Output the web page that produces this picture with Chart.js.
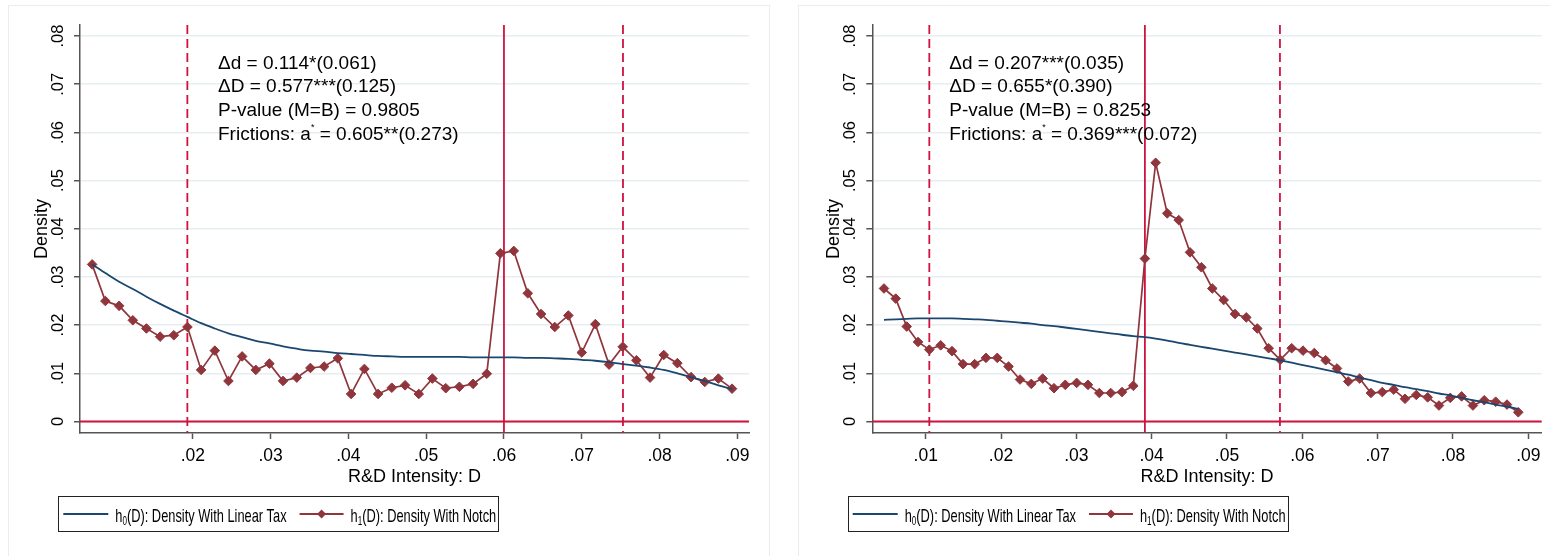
<!doctype html>
<html>

<head>
    <meta charset="UTF-8">
    <title>R&amp;D Intensity: densities with linear tax and notch</title>
    <script src="https://cdn.jsdelivr.net/npm/chart.js"></script>

    <style>
        body {
            margin: 0;
            background-color: #fff;
            width: 1550px;
            height: 556px;
            overflow: hidden;
            position: relative;
        }

        .moldura {
            position: absolute;
            border: 1px solid #e7eef2;
        }

        canvas {
            position: absolute;
            top: 0;
        }
    </style>
</head>

<body>

    <div class="moldura" style="left: 8px; top: 5px; width: 760px; height: 600px;"></div>
    <div class="moldura" style="left: 798px; top: 5px; width: 800px; height: 600px;"></div>
    <canvas id="graficoEsq" width="780" height="556" style="left: 0;"></canvas>
    <canvas id="graficoDir" width="770" height="556" style="left: 780px;"></canvas>

    <script>
        // ticks
        var yTicks = [0, 0.01, 0.02, 0.03, 0.04, 0.05, 0.06, 0.07, 0.08];
        var xTicksEsq = [0.02, 0.03, 0.04, 0.05, 0.06, 0.07, 0.08, 0.09];
        var xTicksDir = [0.01, 0.02, 0.03, 0.04, 0.05, 0.06, 0.07, 0.08, 0.09];

        // painel esquerdo
        var esqD = [0.00706, 0.00876, 0.01053, 0.01229, 0.01404, 0.01580, 0.01756, 0.01931, 0.02107, 0.02283,
            0.02458, 0.02634, 0.02810, 0.02985, 0.03160, 0.03337, 0.03512, 0.03688, 0.03864, 0.04035,
            0.04206, 0.04382, 0.04558, 0.04729, 0.04905, 0.05080, 0.05252, 0.05427, 0.05603, 0.05779,
            0.05954, 0.06126, 0.06306, 0.06477, 0.06653, 0.06828, 0.07000, 0.07175, 0.07351, 0.07527,
            0.07702, 0.07878, 0.08054, 0.08229, 0.08405, 0.08581, 0.08756, 0.08932];
        var esqNotch = [0.0326, 0.0250, 0.0240, 0.0210, 0.0193, 0.0176, 0.0179, 0.0196, 0.0107, 0.0147,
            0.0084, 0.0135, 0.0107, 0.0120, 0.0084, 0.0091, 0.0111, 0.0114, 0.0131, 0.0057,
            0.0109, 0.0057, 0.0070, 0.0075, 0.0057, 0.0089, 0.0069, 0.0072, 0.0078, 0.0099,
            0.0349, 0.0354, 0.0266, 0.0223, 0.0196, 0.0220, 0.0143, 0.0202, 0.0118, 0.0155,
            0.0127, 0.0091, 0.0138, 0.0121, 0.0092, 0.0082, 0.0089, 0.0068];
        var esqLinear = [0.0326, 0.0308, 0.0290, 0.0275, 0.0259, 0.0244, 0.0230, 0.0217, 0.0204, 0.0193,
            0.0183, 0.0175, 0.0167, 0.0162, 0.0156, 0.0151, 0.0147, 0.0145, 0.0142, 0.0140,
            0.0138, 0.0136, 0.0135, 0.0134, 0.0134, 0.0134, 0.0134, 0.0134, 0.0133, 0.0133,
            0.0133, 0.0133, 0.0132, 0.0132, 0.0131, 0.0130, 0.0128, 0.0126, 0.0123, 0.0119,
            0.0116, 0.0112, 0.0107, 0.0100, 0.0092, 0.0084, 0.0075, 0.0067];
        var esqLimites = [0.0193, 0.0753];
        var esqEntalhe = 0.06;
        var esqTexto = ['Δd = 0.114*(0.061)', 'ΔD = 0.577***(0.125)', 'P-value (M=B) = 0.9805',
            'Frictions: a^* = 0.605**(0.273)'];

        // painel direito
        var dirD = [0.00446, 0.00602, 0.00748, 0.00898, 0.01048, 0.01199, 0.01349, 0.01495, 0.01650, 0.01800,
            0.01950, 0.02100, 0.02252, 0.02402, 0.02553, 0.02703, 0.02853, 0.03004, 0.03154, 0.03305,
            0.03456, 0.03606, 0.03756, 0.03910, 0.04053, 0.04207, 0.04359, 0.04509, 0.04660, 0.04805,
            0.04956, 0.05106, 0.05256, 0.05402, 0.05553, 0.05707, 0.05859, 0.06009, 0.06159, 0.06310,
            0.06460, 0.06610, 0.06761, 0.06911, 0.07062, 0.07213, 0.07363, 0.07513, 0.07664, 0.07814,
            0.07964, 0.08115, 0.08265, 0.08415, 0.08567, 0.08717, 0.08867];
        var dirNotch = [0.0276, 0.0255, 0.0197, 0.0165, 0.0149, 0.0158, 0.0146, 0.0119, 0.0119, 0.0132,
            0.0132, 0.0114, 0.0087, 0.0078, 0.0089, 0.0069, 0.0076, 0.0080, 0.0076, 0.0059,
            0.0059, 0.0061, 0.0074, 0.0338, 0.0537, 0.0432, 0.0418, 0.0351, 0.0320, 0.0276,
            0.0252, 0.0223, 0.0216, 0.0193, 0.0152, 0.0128, 0.0152, 0.0147, 0.0142, 0.0127,
            0.0110, 0.0083, 0.0089, 0.0059, 0.0061, 0.0066, 0.0047, 0.0055, 0.0050, 0.0033,
            0.0049, 0.0052, 0.0033, 0.0044, 0.0041, 0.0035, 0.0019];
        var dirLinear = [0.0211, 0.0212, 0.0213, 0.0214, 0.0214, 0.0214, 0.0214, 0.0213, 0.0212, 0.0211,
            0.0209, 0.0207, 0.0205, 0.0203, 0.0200, 0.0198, 0.0195, 0.0192, 0.0189, 0.0186,
            0.0183, 0.0180, 0.0177, 0.0175, 0.0172, 0.0168, 0.0163, 0.0159, 0.0155, 0.0151,
            0.0147, 0.0143, 0.0139, 0.0135, 0.0131, 0.0127, 0.0122, 0.0117, 0.0112, 0.0107,
            0.0102, 0.0097, 0.0091, 0.0086, 0.0080, 0.0076, 0.0071, 0.0067, 0.0063, 0.0058,
            0.0054, 0.0049, 0.0044, 0.0040, 0.0035, 0.0031, 0.0026];
        var dirLimites = [0.01048, 0.05703];
        var dirEntalhe = 0.0391;
        var dirTexto = ['Δd = 0.207***(0.035)', 'ΔD = 0.655*(0.390)', 'P-value (M=B) = 0.8253',
            'Frictions: a^* = 0.369***(0.072)'];

        var legenda = [['0', '(D): Density With Linear Tax'], ['1', '(D): Density With Notch']];

        var AZUL = '#1a476f';
        var VINHO = '#90353b';
        var VERMELHO = '#d0123f';
        var EIXO = '#555555';
        var GRADE = '#e6eef1';
        var FONTE = '"Liberation Sans", Arial, sans-serif';
        var TOPO = 25, BASE = 433;

        function rotulo(v) {
            return v === 0 ? '0' : v.toFixed(2).replace(/^0/, '');
        }

        // linhas de referencia, rotulos, textos e legenda
        function decoracao(p) {
            return {
                id: 'decoracao',
                beforeDatasetsDraw: function (chart) {
                    var ctx = chart.ctx, a = chart.chartArea, x = chart.scales.x, y = chart.scales.y;
                    ctx.save();
                    ctx.strokeStyle = VERMELHO;
                    ctx.lineWidth = 2;
                    var y0 = y.getPixelForValue(0);
                    ctx.beginPath();
                    ctx.moveTo(a.left, y0);
                    ctx.lineTo(a.right, y0);
                    ctx.stroke();

                    ctx.lineWidth = 1.8;
                    ctx.setLineDash([9, 5]);
                    p.limites.forEach(function (v) {
                        var px = x.getPixelForValue(v);
                        ctx.beginPath();
                        ctx.moveTo(px, a.top);
                        ctx.lineTo(px, a.bottom);
                        ctx.stroke();
                    });
                    ctx.setLineDash([]);
                    var pe = x.getPixelForValue(p.entalhe);
                    ctx.beginPath();
                    ctx.moveTo(pe, a.top);
                    ctx.lineTo(pe, a.bottom);
                    ctx.stroke();
                    ctx.restore();
                },
                afterDraw: function (chart) {
                    var ctx = chart.ctx, a = chart.chartArea, x = chart.scales.x, y = chart.scales.y;
                    ctx.save();
                    ctx.fillStyle = '#000';

                    // eixo y: rotulos na vertical
                    ctx.font = '16.5px ' + FONTE;
                    ctx.textAlign = 'center';
                    ctx.textBaseline = 'alphabetic';
                    yTicks.forEach(function (v) {
                        ctx.save();
                        ctx.translate(a.left - 17.3, y.getPixelForValue(v));
                        ctx.rotate(-Math.PI / 2);
                        ctx.fillText(rotulo(v), 0, 0);
                        ctx.restore();
                    });
                    ctx.save();
                    ctx.font = '18px ' + FONTE;
                    ctx.translate(a.left - 33.5, (a.top + a.bottom) / 2);
                    ctx.rotate(-Math.PI / 2);
                    ctx.fillText('Density', 0, 0);
                    ctx.restore();

                    // eixo x
                    ctx.font = '17.5px ' + FONTE;
                    p.xTicks.forEach(function (v) {
                        ctx.fillText(rotulo(v), x.getPixelForValue(v), 460.7);
                    });
                    ctx.font = '18px ' + FONTE;
                    ctx.fillText('R&D Intensity: D', (a.left + a.right) / 2, 481.7);

                    // estatisticas
                    ctx.textAlign = 'left';
                    [68.5, 92.3, 116.2, 140].forEach(function (by, i) {
                        var partes = p.texto[i].split('^*');
                        var px = p.textoX;
                        ctx.font = '19px ' + FONTE;
                        ctx.fillText(partes[0], px, by);
                        if (partes.length > 1) {
                            px += ctx.measureText(partes[0]).width;
                            ctx.font = '9px ' + FONTE;
                            ctx.fillText('*', px, by - 10);
                            px += ctx.measureText('*').width;
                            ctx.font = '19px ' + FONTE;
                            ctx.fillText(partes[1], px, by);
                        }
                    });

                    // legenda (texto estreito, como no original)
                    var esc = 0.675, cy = 514, base = 521.5;
                    function item(px, i) {
                        ctx.save();
                        ctx.translate(px, base);
                        ctx.scale(esc, 1);
                        ctx.font = '19px ' + FONTE;
                        ctx.fillText('h', 0, 0);
                        var w = ctx.measureText('h').width;
                        ctx.font = '12px ' + FONTE;
                        ctx.fillText(legenda[i][0], w, 3.5);
                        w += ctx.measureText(legenda[i][0]).width;
                        ctx.font = '19px ' + FONTE;
                        ctx.fillText(legenda[i][1], w, 0);
                        w += ctx.measureText(legenda[i][1]).width;
                        ctx.restore();
                        return w * esc;
                    }
                    var L = p.legendaX;
                    ctx.lineWidth = 2;
                    ctx.strokeStyle = AZUL;
                    ctx.beginPath();
                    ctx.moveTo(L + 5, cy);
                    ctx.lineTo(L + 50, cy);
                    ctx.stroke();
                    var fim = L + 57 + item(L + 57, 0);
                    var r0 = fim + 13;
                    ctx.strokeStyle = VINHO;
                    ctx.beginPath();
                    ctx.moveTo(r0, cy);
                    ctx.lineTo(r0 + 44, cy);
                    ctx.stroke();
                    ctx.fillStyle = VINHO;
                    ctx.beginPath();
                    ctx.moveTo(r0 + 22 - 4.5, cy);
                    ctx.lineTo(r0 + 22, cy - 4.5);
                    ctx.lineTo(r0 + 22 + 4.5, cy);
                    ctx.lineTo(r0 + 22, cy + 4.5);
                    ctx.closePath();
                    ctx.fill();
                    ctx.fillStyle = '#000';
                    fim = r0 + 51 + item(r0 + 51, 1);
                    ctx.strokeStyle = '#222';
                    ctx.lineWidth = 1;
                    ctx.strokeRect(Math.round(L) + 0.5, 496.5, Math.round(fim + 2 - L), 35);
                    ctx.restore();
                }
            };
        }

        function criarGrafico(id, p) {
            function pontos(ys) {
                return p.d.map(function (d, i) { return { x: d, y: ys[i] }; });
            }
            return new Chart(document.getElementById(id), {
                type: 'line',
                data: {
                    datasets: [{
                        label: 'h0(D): Density With Linear Tax',
                        data: pontos(p.linear),
                        borderColor: AZUL,
                        borderWidth: 1.8,
                        pointRadius: 0,
                        cubicInterpolationMode: 'monotone'
                    }, {
                        label: 'h1(D): Density With Notch',
                        data: pontos(p.notch),
                        borderColor: VINHO,
                        backgroundColor: VINHO,
                        borderWidth: 1.7,
                        pointStyle: 'rectRot',
                        pointRadius: 4.8,
                        pointBorderWidth: 1,
                        tension: 0
                    }]
                },
                options: {
                    responsive: false,
                    animation: false,
                    events: [],
                    layout: { padding: { left: 0, top: TOPO, right: p.margemDir, bottom: 0 } },
                    plugins: { legend: { display: false }, tooltip: { enabled: false } },
                    scales: {
                        x: {
                            type: 'linear',
                            min: p.xMin,
                            max: p.xMax,
                            afterBuildTicks: function (s) {
                                s.ticks = p.xTicks.map(function (v) { return { value: v }; });
                            },
                            afterFit: function (s) { s.height = 556 - BASE; },
                            ticks: { display: false },
                            grid: { drawOnChartArea: false, tickLength: 6, tickColor: EIXO, tickWidth: 1.5 },
                            border: { color: EIXO, width: 1.5 }
                        },
                        y: {
                            min: -0.0024,
                            max: 0.0823,
                            afterBuildTicks: function (s) {
                                s.ticks = yTicks.map(function (v) { return { value: v }; });
                            },
                            afterFit: function (s) { s.width = p.eixoX; },
                            ticks: { display: false },
                            grid: { color: GRADE, lineWidth: 1.5, tickLength: 6, tickColor: EIXO, tickWidth: 1.5 },
                            border: { color: EIXO, width: 1.5 }
                        }
                    }
                },
                plugins: [decoracao(p)]
            });
        }

        criarGrafico('graficoEsq', {
            d: esqD, notch: esqNotch, linear: esqLinear,
            limites: esqLimites, entalhe: esqEntalhe, texto: esqTexto, xTicks: xTicksEsq,
            xMin: 0.0055, xMax: 0.0915,
            eixoX: 80, margemDir: 31, textoX: 218, legendaX: 58.3
        });

        criarGrafico('graficoDir', {
            d: dirD, notch: dirNotch, linear: dirLinear,
            limites: dirLimites, entalhe: dirEntalhe, texto: dirTexto, xTicks: xTicksDir,
            xMin: 0.00291, xMax: 0.09178,
            eixoX: 92.3, margemDir: 8.3, textoX: 169.3, legendaX: 67.7
        });
    </script>
</body>

</html>
